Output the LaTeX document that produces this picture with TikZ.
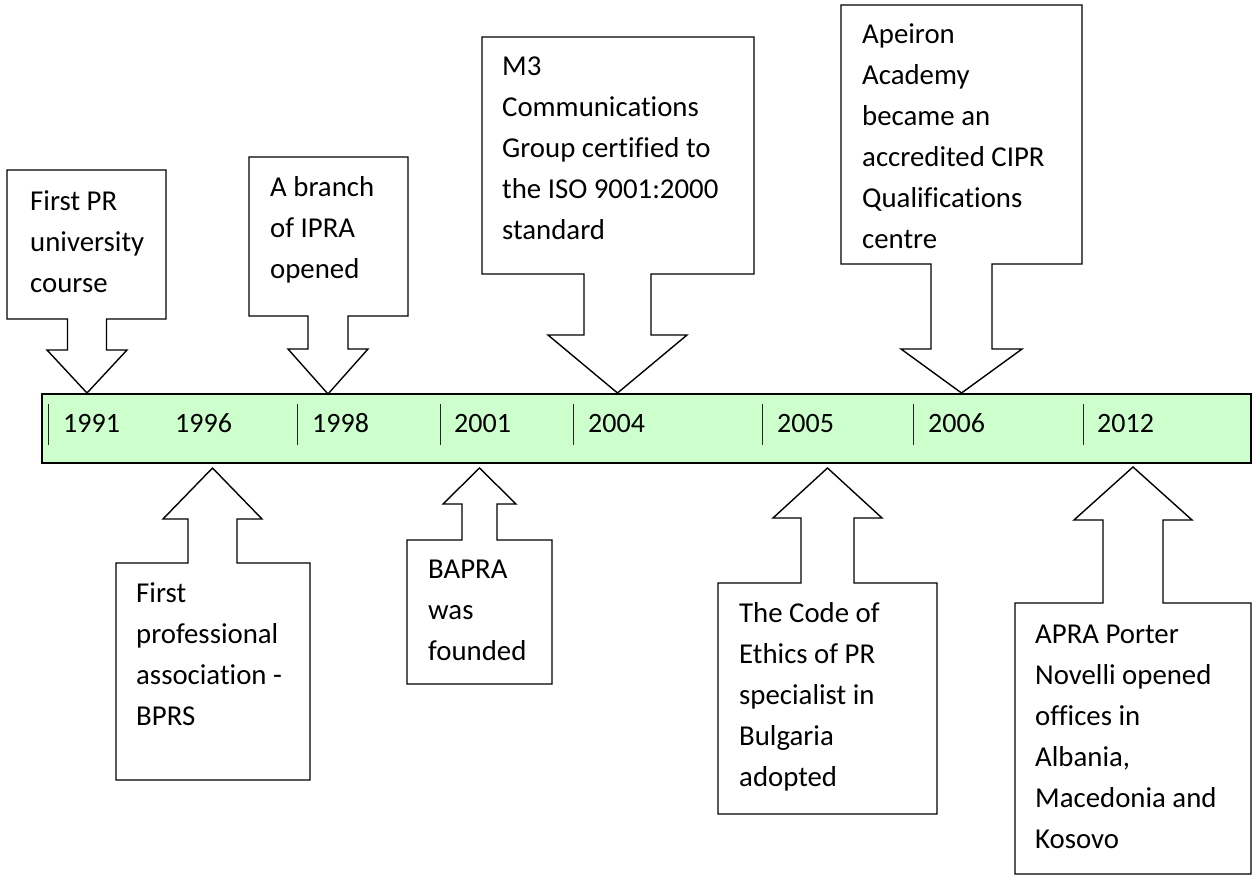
\documentclass[tikz,border=0pt]{standalone}
\usepackage{fontspec}
\setmainfont{Carlito}[Ligatures=NoCommon]
\definecolor{barGreen}{HTML}{CCFFCC}
% L, attach-edge y, R, opposite-edge y, centre x, half shaft, half wing, wing y, tip y
\newcommand\mycallout[9]{%
  \draw[callout] (#1,#4) -- (#3,#4) -- (#3,#2) -- ({#5+#6},#2) -- ({#5+#6},#8)
    -- ({#5+#7},#8) -- (#5,#9) -- ({#5-#7},#8) -- ({#5-#6},#8) -- ({#5-#6},#2)
    -- (#1,#2) -- cycle;}
\begin{document}
\begin{tikzpicture}[x=1pt,y=-1pt,
  callout/.style={draw=black, line width=1.4pt, fill=white, line join=miter},
  lbl/.style={anchor=north west, inner sep=0pt, align=left,
    font=\fontsize{28.8}{41}\selectfont},
  yr/.style={anchor=base west, inner sep=0pt, font=\fontsize{28}{32}\selectfont},
  tickline/.style={draw=black!85, line width=1pt}]
\useasboundingbox (0,0) rectangle (1254,877);

% timeline bar
\draw[fill=barGreen, line width=1.6pt] (42,394) rectangle (1251,463);
\foreach \t in {48,297,440,573,762,913,1083}
  \draw[tickline] (\t,404) -- (\t,445);
\node[yr] (y1991) at (63,432) {1991};
\node[yr] (y1996) at (175,432) {1996};
\node[yr] (y1998) at (312,432) {1998};
\node[yr] (y2001) at (454,432) {2001};
\node[yr] (y2004) at (588,432) {2004};
\node[yr] (y2005) at (777,432) {2005};
\node[yr] (y2006) at (928,432) {2006};
\node[yr] (y2012) at (1097,432) {2012};

% callouts above
\mycallout{7}{319}{166}{170}{87}{19.5}{40}{350}{393}
\mycallout{249}{316}{408}{157}{328}{20}{40}{349}{394}
\mycallout{482}{274}{754}{37}{617.5}{33.5}{69.5}{335}{393}
\mycallout{841}{264}{1082}{5}{961.5}{30.5}{60.5}{349}{393}
% callouts below
\mycallout{116}{563}{310}{780}{212.5}{24.5}{49.5}{519}{468}
\mycallout{407}{540}{552}{684}{479.5}{17.5}{36.5}{504}{468}
\mycallout{718}{583}{937}{814}{827.5}{26.5}{54.5}{518}{468}
\mycallout{1015}{603}{1251}{874}{1133}{30}{59}{520}{467}

% texts
\node[lbl] (t1) at (30,186) {\rule{0pt}{24pt}First PR\\university\\course};
\node[lbl] (t2) at (270,172) {\rule{0pt}{24pt}A branch\\of IPRA\\opened};
\node[lbl] (t3) at (502,51) {\rule{0pt}{24pt}M3\\Communications\\Group certified to\\the ISO 9001:2000\\standard};
\node[lbl] (t4) at (862,19) {\rule{0pt}{24pt}Apeiron\\Academy\\became an\\accredited CIPR\\Qualifications\\centre};
\node[lbl] (t5) at (136,578) {\rule{0pt}{24pt}First\\professional\\association -\\BPRS};
\node[lbl] (t6) at (428,554) {\rule{0pt}{24pt}BAPRA\\was\\founded};
\node[lbl] (t7) at (739,598) {\rule{0pt}{24pt}The Code of\\Ethics of PR\\specialist in\\Bulgaria\\adopted};
\node[lbl] (t8) at (1035,619) {\rule{0pt}{24pt}APRA Porter\\Novelli opened\\offices in\\Albania,\\Macedonia and\\Kosovo};
\end{tikzpicture}
\end{document}
